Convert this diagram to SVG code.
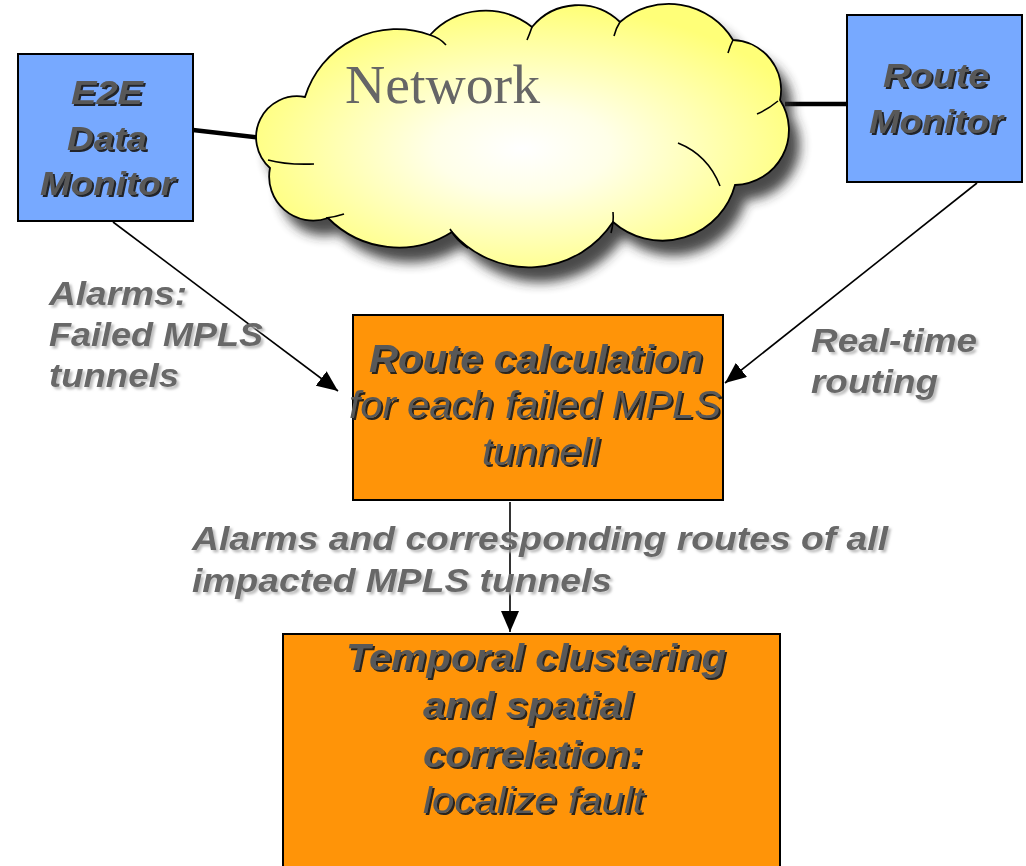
<svg xmlns="http://www.w3.org/2000/svg" xmlns:xlink="http://www.w3.org/1999/xlink" width="1026" height="866" viewBox="0 0 1026 866">
  <style>
    .box { stroke: #000; stroke-width: 2; }
    .blue { fill: #77A9FF; }
    .orange { fill: #FF9408; }
    .bt { font-family: "Liberation Sans", Arial, sans-serif; font-style: italic; fill: #595959; filter: url(#boxShadow); }
    .b { font-weight: bold; }
    .lbl { font-family: "Liberation Sans", Arial, sans-serif; font-style: italic; font-weight: bold; fill: #676767; filter: url(#lblShadow); }
    .thick { stroke: #000; stroke-width: 4.5; fill: none; }
    .arrow { stroke: #000; stroke-width: 1.6; fill: none; marker-end: url(#head); }
    .seam { stroke: #000; stroke-width: 1.6; fill: none; }
  </style>
  <defs>
    <marker id="head" markerUnits="userSpaceOnUse" markerWidth="22" markerHeight="18" refX="21" refY="9" orient="auto">
      <path d="M0,0 L21,9 L0,18 Z" fill="#000"/>
    </marker>
    <filter id="boxShadow" x="-10%" y="-20%" width="120%" height="150%">
      <feDropShadow dx="2" dy="2" stdDeviation="0.4" flood-color="#1a1a1a" flood-opacity="0.95"/>
    </filter>
    <filter id="lblShadow" x="-10%" y="-20%" width="120%" height="150%">
      <feDropShadow dx="2.5" dy="2.5" stdDeviation="1" flood-color="#b8b8b8" flood-opacity="0.9"/>
    </filter>
    <filter id="blur" x="-20%" y="-20%" width="140%" height="140%">
      <feGaussianBlur stdDeviation="6"/>
    </filter>
    <radialGradient id="cloudFill" cx="0.5" cy="0.55" r="0.55">
      <stop offset="0" stop-color="#FFFFFF"/>
      <stop offset="0.3" stop-color="#FFFFE8"/>
      <stop offset="1" stop-color="#FFFF78"/>
    </radialGradient>
    <path id="cloudShape" d="M270,168 A41,41 0 0 1 305,97 A96,96 0 0 1 430,35 A75,75 0 0 1 532,27 A60,60 0 0 1 620,22 A75,75 0 0 1 733,40 A50,50 0 0 1 780,100 A55,55 0 0 1 735,185 A75,75 0 0 1 613,222 A101,101 0 0 1 452,232 A99.5,99.5 0 0 1 328,218 A44,44 0 0 1 270,168 Z"/>
  </defs>

  <rect width="1026" height="866" fill="#fff"/>

  <g id="connectors">
    <line class="thick" x1="193" y1="130" x2="262" y2="138"/>
    <line class="thick" x1="785" y1="104" x2="847" y2="104"/>
    <line class="arrow" x1="113" y1="222" x2="338" y2="391"/>
    <line class="arrow" x1="977" y1="183" x2="725" y2="383"/>
    <line class="arrow" x1="510" y1="502" x2="510" y2="632"/>
  </g>

  <g id="node-network">
    <use xlink:href="#cloudShape" fill="#2a2a2a" opacity="0.85" transform="translate(11,15)" filter="url(#blur)"/>
    <use xlink:href="#cloudShape" fill="url(#cloudFill)" stroke="#000" stroke-width="1.8"/>
    <path class="seam" d="M268,160 Q286,165 314,164"/>
    <path class="seam" d="M326,218 Q335,217 344,214"/>
    <path class="seam" d="M450,229 Q456,240 468,248"/>
    <path class="seam" d="M613,212 Q614,222 611,233"/>
    <path class="seam" d="M678,143 Q708,155 720,186"/>
    <path class="seam" d="M757,114 Q767,110 778,101"/>
    <path class="seam" d="M733,40 Q730,46 728,53"/>
    <path class="seam" d="M620,22 Q616,28 614,36"/>
    <path class="seam" d="M532,27 Q530,33 527,40"/>
    <path class="seam" d="M446,45 Q440,38 430,35"/>
    <text x="345" y="103" font-family="'Liberation Serif', 'Times New Roman', serif" font-size="54" fill="#666" textLength="195" lengthAdjust="spacingAndGlyphs">Network</text>
  </g>

  <g id="node-e2e">
    <rect class="box blue" x="18" y="54" width="175" height="167"/>
    <text class="bt b" font-size="34" x="71" y="104" textLength="72" lengthAdjust="spacingAndGlyphs">E2E</text>
    <text class="bt b" font-size="34" x="67" y="150" textLength="80" lengthAdjust="spacingAndGlyphs">Data</text>
    <text class="bt b" font-size="34" x="40" y="195" textLength="135" lengthAdjust="spacingAndGlyphs">Monitor</text>
  </g>

  <g id="node-route-monitor">
    <rect class="box blue" x="847" y="15" width="175" height="167"/>
    <text class="bt b" font-size="34" x="883" y="87" textLength="106" lengthAdjust="spacingAndGlyphs">Route</text>
    <text class="bt b" font-size="34" x="869" y="133" textLength="134" lengthAdjust="spacingAndGlyphs">Monitor</text>
  </g>

  <g id="node-route-calc">
    <rect class="box orange" x="353" y="315" width="370" height="185"/>
    <text class="bt b" font-size="38" x="369" y="372" textLength="334" lengthAdjust="spacingAndGlyphs">Route calculation</text>
    <text class="bt" font-size="38" x="349" y="418" textLength="372" lengthAdjust="spacingAndGlyphs">for each failed MPLS</text>
    <text class="bt" font-size="38" x="482" y="465" textLength="117" lengthAdjust="spacingAndGlyphs">tunnell</text>
  </g>

  <g id="node-temporal">
    <rect class="box orange" x="283" y="634" width="497" height="240"/>
    <text class="bt b" font-size="36" x="346" y="670" textLength="380" lengthAdjust="spacingAndGlyphs">Temporal clustering</text>
    <text class="bt b" font-size="36" x="423" y="718" textLength="210" lengthAdjust="spacingAndGlyphs">and spatial</text>
    <text class="bt b" font-size="36" x="423" y="767" textLength="220" lengthAdjust="spacingAndGlyphs">correlation:</text>
    <text class="bt" font-size="36" x="423" y="813" textLength="221" lengthAdjust="spacingAndGlyphs">localize fault</text>
  </g>

  <g id="labels">
    <text class="lbl" font-size="34" x="49" y="305" textLength="138" lengthAdjust="spacingAndGlyphs">Alarms:</text>
    <text class="lbl" font-size="34" x="49" y="346" textLength="214" lengthAdjust="spacingAndGlyphs">Failed MPLS</text>
    <text class="lbl" font-size="34" x="49" y="387" textLength="130" lengthAdjust="spacingAndGlyphs">tunnels</text>
    <text class="lbl" font-size="34" x="811" y="352" textLength="166" lengthAdjust="spacingAndGlyphs">Real-time</text>
    <text class="lbl" font-size="34" x="811" y="393" textLength="127" lengthAdjust="spacingAndGlyphs">routing</text>
    <text class="lbl" font-size="34" x="192" y="550" textLength="696" lengthAdjust="spacingAndGlyphs">Alarms and corresponding routes of all</text>
    <text class="lbl" font-size="34" x="192" y="592" textLength="420" lengthAdjust="spacingAndGlyphs">impacted MPLS tunnels</text>
  </g>
</svg>
